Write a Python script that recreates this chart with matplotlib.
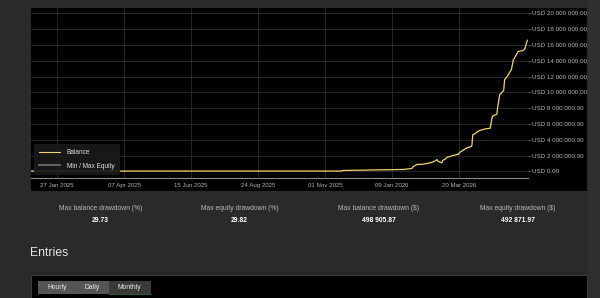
#!/usr/bin/env python3
# -*- coding: utf-8 -*-
"""Balance / equity dashboard panel recreated with matplotlib -> out.png"""

from datetime import datetime

import matplotlib

matplotlib.use("Agg")
import matplotlib.dates as mdates
import matplotlib.pyplot as plt
from matplotlib.lines import Line2D
from matplotlib.patches import Rectangle
from matplotlib.ticker import FuncFormatter, MultipleLocator

plt.rcParams["font.family"] = ["Liberation Sans", "DejaVu Sans"]

# --- data (balance in millions USD) ---
balance_dates = [
    "2024-12-31", "2025-11-18", "2025-11-19", "2026-01-21", "2026-01-30", "2026-01-31",
    "2026-02-04", "2026-02-11", "2026-02-16", "2026-02-19", "2026-02-23", "2026-02-25",
    "2026-02-26", "2026-03-02", "2026-03-03", "2026-03-05", "2026-03-07", "2026-03-14",
    "2026-03-19", "2026-03-21", "2026-03-24", "2026-03-28", "2026-03-31", "2026-04-02",
    "2026-04-03", "2026-04-05", "2026-04-07", "2026-04-10", "2026-04-16", "2026-04-21",
    "2026-04-23", "2026-04-24", "2026-04-28", "2026-04-29", "2026-05-01", "2026-05-03",
    "2026-05-05", "2026-05-06", "2026-05-08", "2026-05-11", "2026-05-13", "2026-05-15",
    "2026-05-16", "2026-05-20", "2026-05-25", "2026-05-27", "2026-05-29", "2026-05-30",
]
balance_musd = [
    0.05, 0.05, 0.12, 0.25, 0.38, 0.58,
    0.88, 0.92, 1.04, 1.13, 1.33, 1.50,
    1.29, 1.08, 1.42, 1.50, 1.75, 2.04,
    2.17, 2.46, 2.67, 3.00, 3.08, 3.21,
    4.63, 4.75, 4.96, 5.17, 5.38, 5.46,
    6.83, 7.04, 7.25, 8.30, 9.75, 9.96,
    10.25, 11.63, 11.90, 12.46, 12.88, 14.13,
    14.30, 15.17, 15.29, 15.50, 16.40, 16.60,
]

x_tick_dates = ["2025-01-27", "2025-04-07", "2025-06-15", "2025-08-24",
                "2025-11-01", "2026-01-09", "2026-03-20"]

stat_labels = ["Max balance drawdown (%)", "Max equity drawdown (%)",
               "Max balance drawdown ($)", "Max equity drawdown ($)"]
stat_values = ["29.73", "29.82", "498 905.87", "492 871.97"]

buttons = ["Hourly", "Daily", "Monthly"]

BG = "#2a2a2a"
PANEL = "#000000"
GOLD = "#f0d36b"
W, H = 600, 298


def _usd(v, _pos=None) -> str:
    return "USD " + f"{v * 1e6:,.2f}".replace(",", " ")


def main() -> int:
    fig = plt.figure(figsize=(W / 100, H / 100), dpi=100, facecolor=BG)

    # page background in pixel coordinates
    bg = fig.add_axes([0, 0, 1, 1])
    bg.set_xlim(0, W)
    bg.set_ylim(H, 0)
    bg.axis("off")
    bg.add_patch(Rectangle((31, 8), 556, 183, facecolor=PANEL, edgecolor="none"))
    bg.add_patch(Rectangle((31, 275), 556, 30, facecolor=PANEL, edgecolor="#444444", linewidth=0.6))
    bg.add_patch(Rectangle((588, 0), 12, H, facecolor="#2f2f2f", edgecolor="none"))

    # stats row
    col_w = 556 / len(stat_labels)
    for i, (lab, val) in enumerate(zip(stat_labels, stat_values)):
        cx = 31 + col_w * (i + 0.5)
        bg.text(cx, 208.5, lab, ha="center", va="center", fontsize=4.9, color="#b8b8b8")
        bg.text(cx, 220.8, val, ha="center", va="center", fontsize=4.9, color="#ffffff",
                fontweight="bold")

    bg.text(30, 253, "Entries", ha="left", va="center", fontsize=8.8, color="#e6e6e6")

    # buttons
    bx = [37.5, 76, 109]
    bw = [38.5, 33, 41.5]
    for i, name in enumerate(buttons):
        fc = "#3a3a3a" if name == "Monthly" else "#555555"
        bg.add_patch(Rectangle((bx[i], 281), bw[i], 13.3, facecolor=fc, edgecolor="none"))
        bg.text(bx[i] + bw[i] / 2, 287.6, name, ha="center", va="center", fontsize=4.9,
                color="#e8e8e8")
    bg.plot([109, 150.5], [294.4, 294.4], color="#1f5a33", linewidth=0.7)

    # chart axes
    ax = fig.add_axes([31 / W, (H - 178) / H, 497 / W, 170 / H], facecolor=PANEL)
    dates = [datetime.strptime(d, "%Y-%m-%d") for d in balance_dates]
    ax.plot(dates, balance_musd, color=GOLD, linewidth=0.9, zorder=3)

    ax.set_xlim(datetime(2024, 12, 31, 10), datetime(2026, 5, 30, 5))
    ax.set_ylim(-0.83, 20.67)

    ax.set_xticks([datetime.strptime(d, "%Y-%m-%d") for d in x_tick_dates])
    ax.xaxis.set_major_formatter(mdates.DateFormatter("%d %b %Y"))
    ax.yaxis.set_major_locator(MultipleLocator(2))
    ax.yaxis.set_major_formatter(FuncFormatter(_usd))
    ax.yaxis.tick_right()

    ax.tick_params(axis="x", length=0, pad=3.5, labelsize=4.4, colors="#b0b0b0")
    ax.tick_params(axis="y", length=2, width=0.5, pad=1, labelsize=4.5,
                   colors="#b8b8b8", color="#777777")
    ax.grid(True, color="#2a2a2a", linewidth=0.6, zorder=0)

    for side in ("top", "left", "right"):
        ax.spines[side].set_visible(False)
    ax.spines["bottom"].set_color("#8a8a8a")
    ax.spines["bottom"].set_linewidth(0.8)

    handles = [
        Line2D([], [], color=GOLD, linewidth=0.8),
        Line2D([], [], color="#666666", linewidth=1.4),
    ]
    leg = ax.legend(handles, ["Balance", "Min / Max Equity"], loc="lower left",
                    bbox_to_anchor=(0.0, 0.0), fontsize=4.7, labelcolor="#e0e0e0",
                    frameon=True, facecolor="#1a1a1a", edgecolor="none", framealpha=0.92,
                    handlelength=3.2, handletextpad=1.0, borderpad=0.8, labelspacing=1.0,
                    fancybox=True)
    leg.set_zorder(5)

    fig.savefig("out.png", dpi=100, facecolor=BG)
    plt.close(fig)
    return 0


if __name__ == "__main__":
    raise SystemExit(main())
